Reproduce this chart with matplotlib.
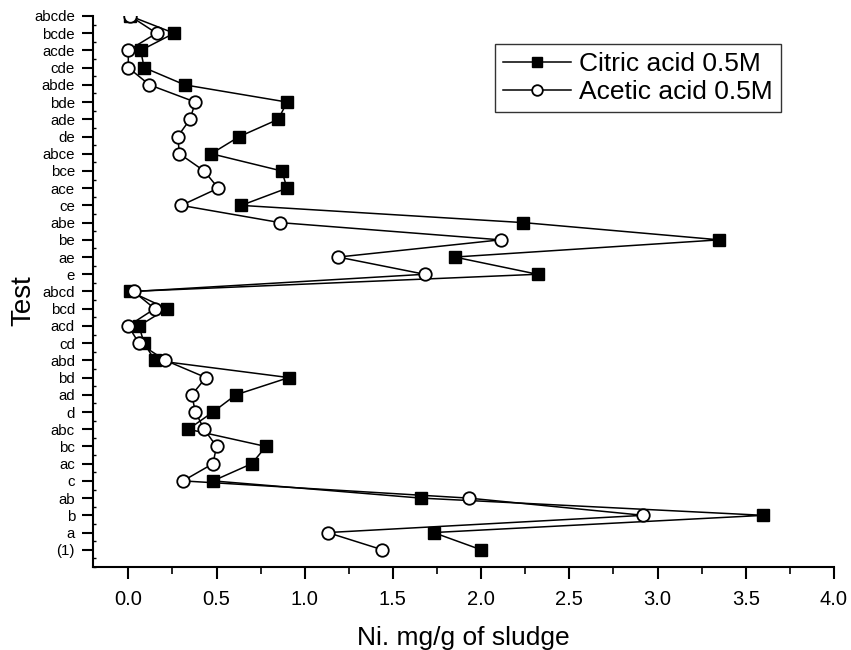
import matplotlib
matplotlib.use('Agg')
import matplotlib.pyplot as plt
import numpy as np
from matplotlib.ticker import MultipleLocator

plt.rcParams['font.family'] = ['Liberation Sans', 'DejaVu Sans']

# tests, bottom to top
tests = ['(1)', 'a', 'b', 'ab', 'c', 'ac', 'bc', 'abc',
         'd', 'ad', 'bd', 'abd', 'cd', 'acd', 'bcd', 'abcd',
         'e', 'ae', 'be', 'abe', 'ce', 'ace', 'bce', 'abce',
         'de', 'ade', 'bde', 'abde', 'cde', 'acde', 'bcde', 'abcde']

# Ni mg/g of sludge
citric = [2.00, 1.73, 3.60, 1.66, 0.48, 0.70, 0.78, 0.34,
          0.48, 0.61, 0.91, 0.15, 0.09, 0.06, 0.22, 0.01,
          2.32, 1.85, 3.35, 2.24, 0.64, 0.90, 0.87, 0.47,
          0.63, 0.85, 0.90, 0.32, 0.09, 0.07, 0.26, 0.01]
acetic = [1.44, 1.13, 2.92, 1.93, 0.31, 0.48, 0.50, 0.43,
          0.38, 0.36, 0.44, 0.21, 0.06, 0.00, 0.15, 0.03,
          1.68, 1.19, 2.11, 0.86, 0.30, 0.51, 0.43, 0.29,
          0.28, 0.35, 0.38, 0.12, 0.00, 0.00, 0.16, 0.01]

y = np.arange(len(tests))

fig = plt.figure(figsize=(8.51, 6.5), dpi=100)
ax = fig.add_axes([0.1093, 0.1277, 0.8707, 0.8477])

ax.plot(citric, y, '-', color='black', lw=1.1, marker='s', ms=8,
        mfc='black', mec='black', label='Citric acid 0.5M', zorder=3)
ax.plot(acetic, y, '-', color='black', lw=1.1, marker='o', ms=9,
        mfc='white', mec='black', mew=1.3, label='Acetic acid 0.5M', zorder=4)

ax.set_xlim(-0.2, 4.0)
ax.set_ylim(-1, 31)
ax.set_yticks(y)
ax.set_yticklabels(tests)
ax.xaxis.set_major_locator(MultipleLocator(0.5))
ax.xaxis.set_minor_locator(MultipleLocator(0.25))
ax.yaxis.set_minor_locator(MultipleLocator(0.5))
ax.xaxis.set_major_formatter(matplotlib.ticker.FormatStrFormatter('%.1f'))

ax.spines['top'].set_visible(False)
ax.spines['right'].set_visible(False)
ax.spines['left'].set_linewidth(1.5)
ax.spines['bottom'].set_linewidth(1.5)

ax.tick_params(axis='y', which='major', direction='out', length=8, width=1.5,
               labelsize=10.8, pad=5)
ax.tick_params(axis='y', which='minor', direction='in', length=2, width=1)
ax.tick_params(axis='x', which='major', direction='out', length=8.5, width=1.5,
               labelsize=14.5, pad=8)
ax.tick_params(axis='x', which='minor', direction='out', length=5, width=1.2)

ax.set_xlabel('Ni. mg/g of sludge', fontsize=19, labelpad=12)
ax.set_ylabel('Test', fontsize=20)
ax.yaxis.set_label_coords(-0.076, 0.483)

leg = ax.legend(loc='upper right', bbox_to_anchor=(0.928, 0.949), fontsize=19,
                frameon=True, fancybox=False, edgecolor='black', handlelength=2.6,
                handletextpad=0.3, labelspacing=0.15, borderpad=0.3,
                markerscale=0.85, borderaxespad=0)
leg.get_frame().set_linewidth(1.0)

fig.savefig('out.png', dpi=100)
